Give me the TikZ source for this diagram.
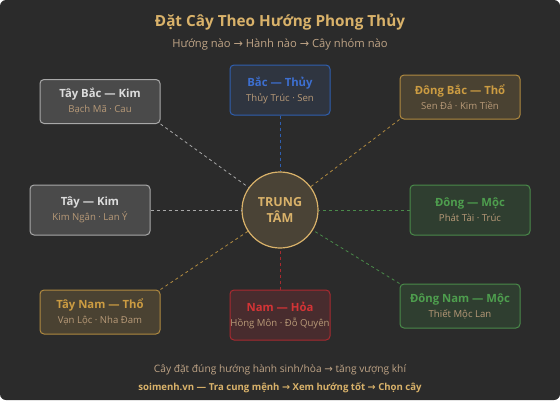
\documentclass[tikz,border=0pt]{standalone}
\usepackage{fontspec}
\setmainfont{Open Sans}
\newfontfamily\arrfont{DejaVu Sans}
\newcommand{\ar}{{\arrfont →}}
\usetikzlibrary{shapes.geometric}
\definecolor{bg}{HTML}{2B2B2B}
\definecolor{gold}{HTML}{D9B26A}
\definecolor{sub}{HTML}{B89A78}
\definecolor{kimfill}{HTML}{4A4A4A}
\definecolor{kimline}{HTML}{A8A8A8}
\definecolor{kimtext}{HTML}{DCDCDC}
\definecolor{thuyfill}{HTML}{2F3540}
\definecolor{thuyline}{HTML}{2F5FB0}
\definecolor{thuytext}{HTML}{3D6FD0}
\definecolor{thofill}{HTML}{4A4232}
\definecolor{tholine}{HTML}{B08A40}
\definecolor{thotext}{HTML}{CC9C42}
\definecolor{mocfill}{HTML}{2F3E30}
\definecolor{mocline}{HTML}{4A8A4A}
\definecolor{moctext}{HTML}{4E9E4E}
\definecolor{hoafill}{HTML}{482C2E}
\definecolor{hoaline}{HTML}{A82A30}
\definecolor{hoatext}{HTML}{D43436}
\definecolor{ctrfill}{HTML}{4A4336}
\newcommand{\bx}[3]{\textcolor{#1}{\bfseries\fontsize{11.3}{13}\selectfont #2}\\[3pt]{\color{sub}\fontsize{9.6}{11}\selectfont #3}}
\begin{document}
\begin{tikzpicture}[x=1pt,y=-1pt,
  dirbox/.style={draw, rounded corners=4pt, line width=1pt, minimum width=120pt, minimum height=44pt, align=center, inner sep=0pt},
  smallbox/.style={dirbox, minimum width=100pt, minimum height=50pt},
  conn/.style={line width=0.8pt, dash pattern=on 3pt off 3pt}]
\fill[bg, rounded corners=6pt] (0,0) rectangle (560,400);
\useasboundingbox (0,0) rectangle (560,400);

\node[text=gold, font=\bfseries\fontsize{15.3}{17}\selectfont] (title) at (280,22) {Đặt Cây Theo Hướng Phong Thủy};
\node[text=sub!90!white, font=\fontsize{11.2}{12}\selectfont] (subtitle) at (280,45) {Hướng nào \ar{} Hành nào \ar{} Cây nhóm nào};

\node[circle, draw=gold, fill=ctrfill, line width=1.2pt, minimum size=76pt, align=center, text=gold, font=\bfseries\fontsize{12.5}{16}\selectfont] (c) at (280,210) {TRUNG\\TÂM};

\node[dirbox, fill=kimfill, draw=kimline] (tb) at (100,101.5) {\bx{kimtext}{Tây Bắc — Kim}{Bạch Mã · Cau}};
\node[smallbox, fill=thuyfill, draw=thuyline] (b) at (280,90) {\bx{thuytext}{Bắc — Thủy}{Thủy Trúc · Sen}};
\node[dirbox, fill=thofill, draw=tholine] (db) at (460,97) {\bx{thotext}{Đông Bắc — Thổ}{Sen Đá · Kim Tiền}};
\node[dirbox, fill=kimfill, draw=kimline, minimum height=50pt] (t) at (90,210) {\bx{kimtext}{Tây — Kim}{Kim Ngân · Lan Ý}};
\node[dirbox, fill=mocfill, draw=mocline, minimum height=50pt] (d) at (470,210) {\bx{moctext}{Đông — Mộc}{Phát Tài · Trúc}};
\node[dirbox, fill=thofill, draw=tholine] (tn) at (100,312) {\bx{thotext}{Tây Nam — Thổ}{Vạn Lộc · Nha Đam}};
\node[smallbox, fill=hoafill, draw=hoaline] (n) at (280,315) {\bx{hoatext}{Nam — Hỏa}{Hồng Môn · Đỗ Quyên}};
\node[dirbox, fill=mocfill, draw=mocline] (dn) at (460,306) {\bx{moctext}{Đông Nam — Mộc}{Thiết Mộc Lan}};

\draw[conn, kimline] (tb.south east) -- (c);
\draw[conn, thuyline] (b.south) -- (c);
\draw[conn, tholine] (db.south west) -- (c);
\draw[conn, kimline] (t.east) -- (c);
\draw[conn, mocline] (d.west) -- (c);
\draw[conn, tholine] (tn.north east) -- (c);
\draw[conn, hoaline] (n.north) -- (c);
\draw[conn, mocline] (dn.north west) -- (c);

\node[text=sub!90!white, font=\fontsize{10.2}{11}\selectfont] (f1) at (280,370) {Cây đặt đúng hướng hành sinh/hòa \ar{} tăng vượng khí};
\node[text=gold, font=\bfseries\fontsize{9.6}{11}\selectfont] (f2) at (280,388) {soimenh.vn — Tra cung mệnh \ar{} Xem hướng tốt \ar{} Chọn cây};
\end{tikzpicture}
\end{document}
